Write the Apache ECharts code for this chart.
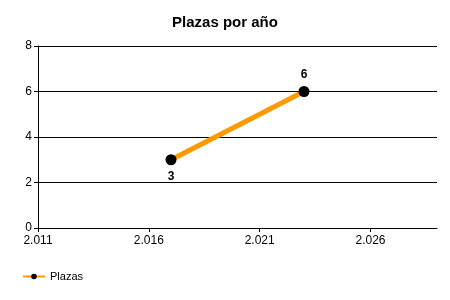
<!DOCTYPE html>
<html><head><meta charset="utf-8">
<script src="https://cdn.jsdelivr.net/npm/echarts@6/dist/echarts.min.js"></script>
<style>html,body{margin:0;padding:0;background:#fff}#c{width:450px;height:300px}</style>
</head><body><div id="c"></div>
<script>
const title = 'Plazas por año';
const seriesName = 'Plazas';
const years = [2017, 2023];
const plazas = [3, 6];
const xTicks = [2011, 2016, 2021, 2026];
const yTicks = [0, 2, 4, 6, 8];

const fmtYear = v => { const s = String(Math.round(v)); return s.slice(0, s.length - 3) + '.' + s.slice(-3); };
const font = 'Liberation Sans, Arial, sans-serif';
const chart = echarts.init(document.getElementById('c'));
chart.setOption({
  animation: false,
  title: { text: title, left: 'center', top: 10, textStyle: { fontFamily: font, fontSize: 15, fontWeight: 'bold', color: '#000' } },
  grid: { left: 38, right: 13, top: 46, bottom: 72, containLabel: false },
  xAxis: {
    type: 'value', min: 2011, max: 2029, interval: 5,
    axisLine: { show: true, onZero: false, lineStyle: { color: '#000', width: 1 } },
    axisTick: { show: true, length: 4, lineStyle: { color: '#000' }, customValues: xTicks },
    axisLabel: { customValues: xTicks, formatter: fmtYear, color: '#000', fontFamily: font, fontSize: 12, margin: 7 },
    splitLine: { show: false }
  },
  yAxis: {
    type: 'value', min: 0, max: 8, interval: 2,
    axisLine: { show: true, lineStyle: { color: '#000', width: 1 } },
    axisTick: { show: true, length: 4, lineStyle: { color: '#000' } },
    axisLabel: { color: '#000', fontFamily: font, fontSize: 12, margin: 6 },
    splitLine: { show: true, lineStyle: { color: '#000', width: 1 } }
  },
  legend: {
    left: 22, bottom: 18, padding: 0, itemWidth: 22, itemHeight: 7, itemGap: 6,
    textStyle: { fontFamily: font, fontSize: 11, color: '#000' },
    data: [{ name: seriesName }]
  },
  series: [{
    name: seriesName, type: 'line',
    data: years.map((y, i) => ({ value: [y, plazas[i]], label: { position: i === 0 ? 'bottom' : 'top' } })),
    lineStyle: { color: '#FF9900', width: 5 },
    itemStyle: { color: '#000' },
    symbol: 'circle', symbolSize: 11,
    label: {
      show: true, fontFamily: font, fontWeight: 'bold', fontSize: 12, color: '#000',
      distance: 5,
      formatter: p => p.value[1]
    },
    emphasis: { disabled: true }
  }]
});
</script></body></html>
